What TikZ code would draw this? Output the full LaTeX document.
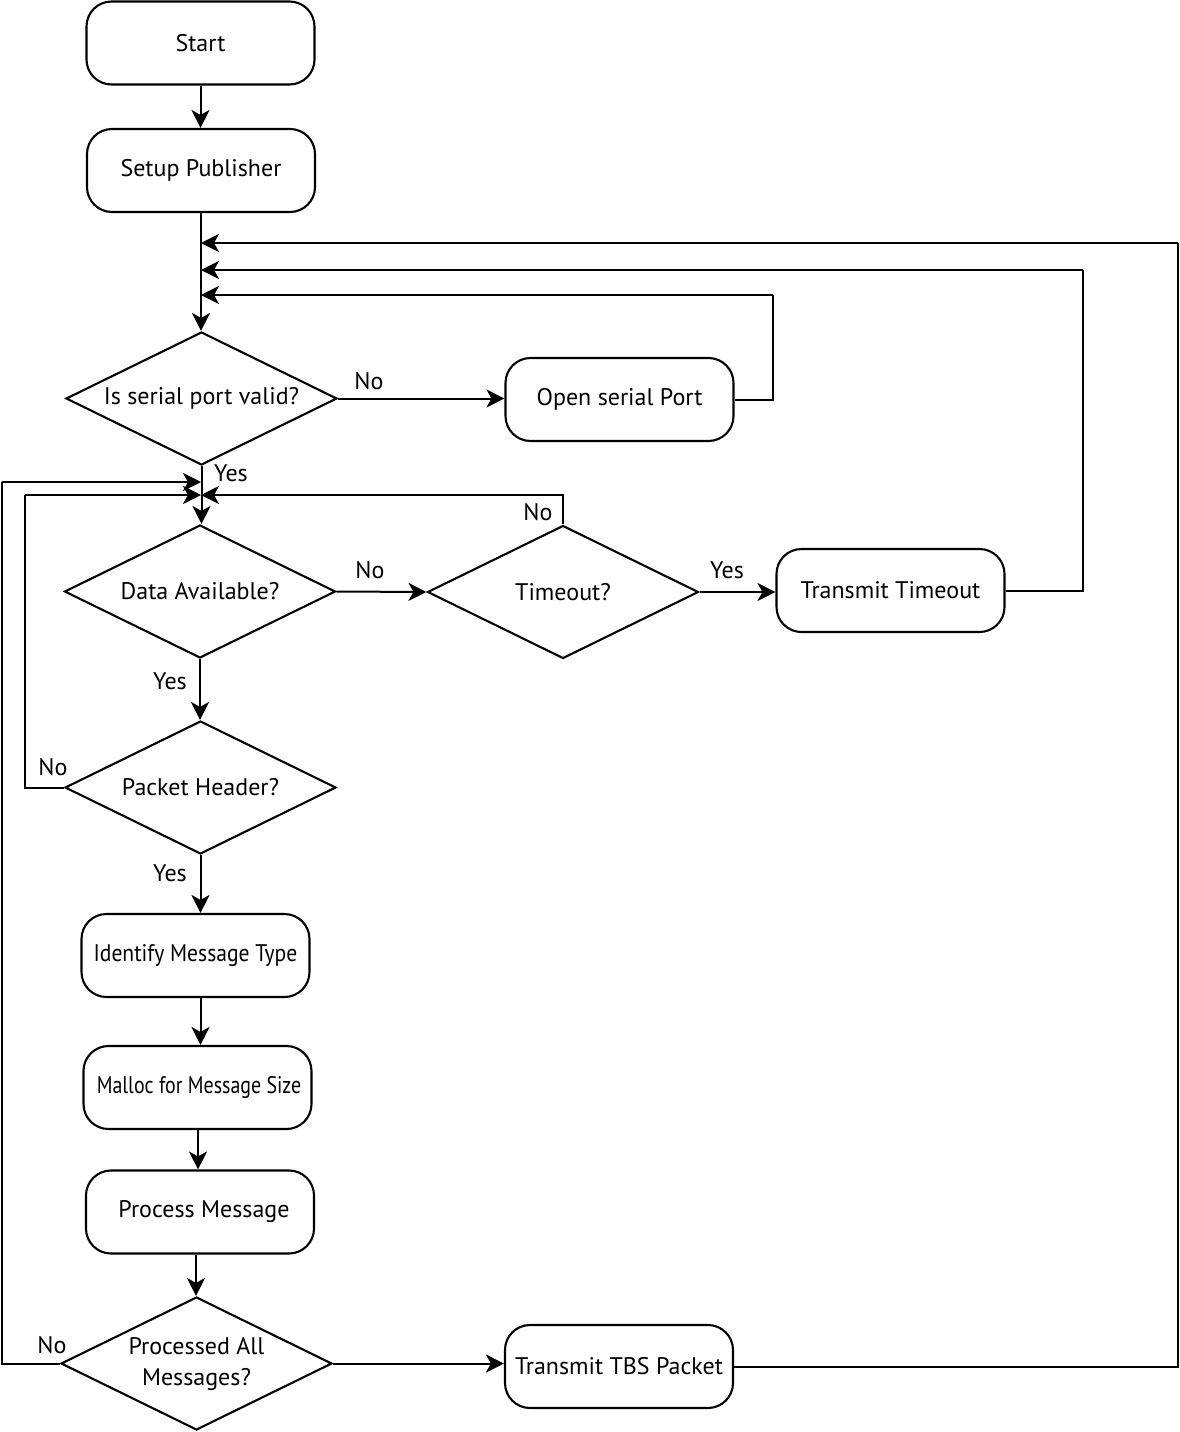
\documentclass[tikz,border=0pt]{standalone}
\usepackage{fontspec}
\setmainfont{PT Sans}
\newfontfamily\condfont[FakeStretch=0.90]{PT Sans}
\newfontfamily\condfontb[FakeStretch=0.83]{PT Sans}
\usetikzlibrary{shapes.geometric,arrows.meta}
\begin{document}
\begin{tikzpicture}[x=1pt,y=-1pt,
  every node/.style={font=\fontsize{24}{31}\selectfont},
  proc/.style={draw,line width=2.1pt,rounded corners=25pt,minimum width=228pt,minimum height=83pt,inner sep=0pt},
  dec/.style={draw,diamond,line width=2.1pt,minimum width=271pt,minimum height=133pt,inner sep=0pt,shape aspect=2.04},
  dtext/.style={inner sep=0pt,align=center},
  lbl/.style={inner sep=0pt},
  cond/.style={font=\fontsize{24}{31}\condfont},
  condb/.style={font=\fontsize{24}{31}\condfontb},
  conn/.style={line width=2pt},
  arr/.style={conn,-{Stealth[length=18pt,width=18pt,inset=5pt]}}]
\useasboundingbox (0,0) rectangle (1180,1432);
% nodes
\node[proc] (start) at (200.5,43) {Start};
\node[proc] (setup) at (201,170.5) {Setup Publisher};
\node[dec] (d1) at (201.5,398.5) {};
\node[dtext] (t1) at (d1) {Is serial port valid?};
\node[proc] (osp) at (619.5,399.5) {Open serial Port};
\node[dec] (d2) at (200,591.5) {};
\node[dtext] (t2) at (d2) {Data Available?};
\node[dec] (to) at (563,592) {};
\node[dtext] (t3) at (to) {Timeout?};
\node[proc] (tt) at (890.5,590.5) {Transmit Timeout};
\node[dec] (d3) at (200.5,787.5) {};
\node[dtext] (t4) at (d3) {Packet Header?};
\node[proc,cond] (idm) at (195.5,955.5) {Identify Message Type};
\node[proc,condb] (mal) at (197.5,1087.5) {\hspace{3pt}Malloc for Message Size};
\node[proc] (pm) at (200,1212) {\hspace{8pt}Process Message};
\node[dec] (d4) at (196.5,1363.5) {};
\node[dtext] (t5) at (d4) {Processed All\\Messages?};
\node[proc] (tbs) at (619,1366.5) {Transmit TBS Packet};
% labels
\node[lbl] (lno1) at (369,381) {No};
\node[lbl] (lyes1) at (231,473) {Yes};
\node[lbl] (lno2) at (370,570) {No};
\node[lbl] (lno3) at (538,512) {No};
\node[lbl] (lyes3) at (727,570) {Yes};
\node[lbl] (lyes2) at (170,681) {Yes};
\node[lbl] (lno4) at (53,767) {No};
\node[lbl] (lyes4) at (170,873) {Yes};
\node[lbl] (lno5) at (52,1345) {No};
% junction coordinates
\coordinate (j1) at (201,243);
\coordinate (j2) at (201,270);
\coordinate (j3) at (201,295);
\coordinate (j4) at (201,482);
\coordinate (j5) at (201,495);
\coordinate (r1) at (1178,243);
\coordinate (r2) at (1083,270);
\coordinate (r3) at (773,295);
\coordinate (l1) at (2,482);
\coordinate (l2) at (25,495);
% connectors
\draw[arr] (start.south) -- (start.south |- setup.north);
\draw[arr] (setup.south) -- (setup.south |- d1.north);
\draw[arr] (d1.east) -- (osp.west |- d1.east);
\draw[conn] (osp.east) -| (r3);
\draw[arr] (r3) -- (j3);
\draw[conn] (tt.east) -| (r2);
\draw[arr] (r2) -- (j2);
\draw[conn] (tbs.east) -| (r1);
\draw[arr] (r1) -- (j1);
\draw[arr] (d1.south) -- (d1.south |- d2.north);
\draw[arr] (d2.east) -- (to.west);
\draw[arr] (to.east) -- (tt.west |- to.east);
\draw[arr] (to.north) |- (j5);
\draw[arr] (d2.south) -- (d2.south |- d3.north);
\draw[conn] (d3.west) -| (l2);
\draw[arr] (l2) -- (j5);
\draw[conn] (d4.west) -| (l1);
\draw[arr] (l1) -- (j4);
\draw[arr] (d3.south) -- (d3.south |- idm.north);
\draw[arr] ([xshift=5pt]idm.south) -- ([xshift=5pt]idm.south |- mal.north);
\draw[arr] ([xshift=0.5pt]mal.south) -- ([xshift=0.5pt]mal.south |- pm.north);
\draw[arr] ([xshift=-4pt]pm.south) -- ([xshift=-4pt]pm.south |- d4.north);
\draw[arr] (d4.east) -- (tbs.west |- d4.east);
\end{tikzpicture}
\end{document}
